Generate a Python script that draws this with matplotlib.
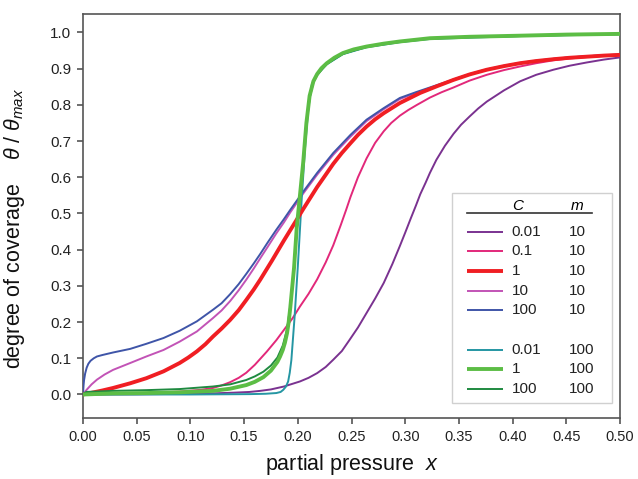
import matplotlib
matplotlib.use("Agg")
import matplotlib.pyplot as plt
from matplotlib.lines import Line2D
from matplotlib.patches import Rectangle
from matplotlib.ticker import FormatStrFormatter

plt.rcParams["font.family"] = ["Liberation Sans", "DejaVu Sans"]
plt.rcParams["mathtext.fontset"] = "custom"
plt.rcParams["mathtext.rm"] = "Liberation Sans"
plt.rcParams["mathtext.it"] = "Liberation Sans:italic"

# values (x = partial pressure, y = theta/theta_max)
x_c001_m10 = [0.0, 0.05, 0.10, 0.12, 0.14, 0.155, 0.165, 0.175, 0.187, 0.202, 0.210, 0.218,
              0.226, 0.233, 0.241, 0.248, 0.256, 0.264, 0.272, 0.280, 0.288, 0.295, 0.300,
              0.305, 0.310, 0.314, 0.319, 0.323, 0.329, 0.337, 0.345, 0.352, 0.360, 0.368,
              0.376, 0.392, 0.407, 0.422, 0.438, 0.453, 0.469, 0.485, 0.5]
y_c001_m10 = [0.0, 0.0005, 0.002, 0.003, 0.005, 0.007, 0.010, 0.014, 0.022, 0.036, 0.046, 0.059,
              0.076, 0.096, 0.120, 0.150, 0.185, 0.225, 0.265, 0.308, 0.360, 0.410, 0.447,
              0.485, 0.522, 0.553, 0.585, 0.612, 0.648, 0.687, 0.720, 0.745, 0.768, 0.790,
              0.809, 0.840, 0.865, 0.883, 0.897, 0.908, 0.917, 0.925, 0.931]

x_c01_m10 = [0.0, 0.05, 0.09, 0.11, 0.121, 0.129, 0.137, 0.145, 0.152, 0.160, 0.171, 0.180,
             0.187, 0.195, 0.202, 0.210, 0.218, 0.226, 0.233, 0.240, 0.245, 0.249, 0.256,
             0.264, 0.272, 0.280, 0.287, 0.295, 0.303, 0.311, 0.323, 0.334, 0.345, 0.360,
             0.376, 0.392, 0.407, 0.422, 0.438, 0.453, 0.469, 0.485, 0.5]
y_c01_m10 = [0.0, 0.003, 0.008, 0.013, 0.018, 0.025, 0.034, 0.046, 0.060, 0.082, 0.118, 0.150,
             0.178, 0.210, 0.243, 0.278, 0.318, 0.365, 0.412, 0.468, 0.510, 0.545, 0.600,
             0.652, 0.695, 0.727, 0.750, 0.770, 0.786, 0.800, 0.820, 0.835, 0.848, 0.867,
             0.883, 0.896, 0.906, 0.915, 0.923, 0.928, 0.932, 0.935, 0.937]

x_c1_m10 = [0.0, 0.005, 0.010, 0.018, 0.028, 0.044, 0.059, 0.075, 0.090, 0.098, 0.106, 0.114,
            0.121, 0.129, 0.137, 0.145, 0.152, 0.159, 0.165, 0.176, 0.187, 0.198, 0.205,
            0.218, 0.226, 0.233, 0.241, 0.249, 0.256, 0.264, 0.272, 0.280, 0.295, 0.314,
            0.330, 0.345, 0.360, 0.376, 0.392, 0.407, 0.422, 0.438, 0.453, 0.469, 0.485, 0.5]
y_c1_m10 = [0.0, 0.003, 0.006, 0.011, 0.018, 0.031, 0.045, 0.064, 0.087, 0.102, 0.119, 0.139,
            0.160, 0.182, 0.206, 0.233, 0.261, 0.290, 0.317, 0.370, 0.425, 0.478, 0.512,
            0.573, 0.607, 0.637, 0.667, 0.694, 0.717, 0.740, 0.760, 0.777, 0.805, 0.833,
            0.852, 0.869, 0.884, 0.897, 0.907, 0.915, 0.921, 0.926, 0.930, 0.933, 0.936, 0.938]

x_c10_m10 = [0.0, 0.002, 0.004, 0.008, 0.013, 0.020, 0.028, 0.044, 0.059, 0.075, 0.090, 0.106,
             0.121, 0.129, 0.137, 0.145, 0.152, 0.159, 0.165, 0.172, 0.180, 0.187, 0.193,
             0.205, 0.218, 0.233, 0.249, 0.264, 0.280, 0.295, 0.310, 0.323, 0.345, 0.360,
             0.376, 0.392, 0.407, 0.422, 0.438, 0.453, 0.469, 0.485, 0.5]
y_c10_m10 = [0.0, 0.008, 0.015, 0.028, 0.041, 0.055, 0.068, 0.087, 0.105, 0.123, 0.146, 0.174,
             0.211, 0.232, 0.258, 0.288, 0.317, 0.348, 0.376, 0.408, 0.445, 0.475, 0.503,
             0.555, 0.607, 0.662, 0.712, 0.755, 0.788, 0.816, 0.833, 0.846, 0.869, 0.884,
             0.897, 0.907, 0.915, 0.921, 0.927, 0.931, 0.934, 0.937, 0.939]

x_c100_m10 = [0.0, 0.0005, 0.001, 0.002, 0.0034, 0.005, 0.007, 0.010, 0.013, 0.018, 0.028,
              0.044, 0.059, 0.075, 0.090, 0.106, 0.121, 0.129, 0.137, 0.145, 0.152, 0.159,
              0.165, 0.172, 0.180, 0.187, 0.193, 0.205, 0.218, 0.233, 0.249, 0.264, 0.280,
              0.295, 0.310, 0.323, 0.345, 0.360, 0.376, 0.392, 0.407, 0.422, 0.438, 0.453,
              0.469, 0.485, 0.5]
y_c100_m10 = [0.0, 0.025, 0.040, 0.058, 0.074, 0.085, 0.093, 0.100, 0.105, 0.109, 0.116,
              0.126, 0.140, 0.156, 0.176, 0.202, 0.234, 0.252, 0.277, 0.305, 0.333, 0.362,
              0.388, 0.420, 0.455, 0.484, 0.510, 0.560, 0.612, 0.667, 0.717, 0.759, 0.791,
              0.819, 0.835, 0.848, 0.870, 0.885, 0.898, 0.908, 0.916, 0.922, 0.927, 0.931,
              0.934, 0.937, 0.939]

x_c001_m100 = [0.0, 0.10, 0.155, 0.170, 0.180, 0.184, 0.1865, 0.189, 0.191, 0.1925, 0.194,
               0.197, 0.200, 0.2036, 0.2067, 0.2098, 0.213, 0.218, 0.227, 0.242, 0.264, 0.295,
               0.323, 0.407, 0.5]
y_c001_m100 = [0.0, 0.0, 0.001, 0.002, 0.004, 0.007, 0.013, 0.022, 0.036, 0.060, 0.095,
               0.214, 0.353, 0.538, 0.680, 0.790, 0.855, 0.885, 0.912, 0.940, 0.959, 0.973,
               0.982, 0.990, 0.995]

x_c1_m100 = [0.0, 0.028, 0.059, 0.090, 0.121, 0.137, 0.152, 0.160, 0.168, 0.175, 0.181,
             0.1835, 0.186, 0.188, 0.190, 0.1915, 0.193, 0.1965, 0.199, 0.2015, 0.205, 0.208,
             0.211, 0.2145, 0.218, 0.222, 0.227, 0.234, 0.242, 0.252, 0.264, 0.280, 0.295,
             0.323, 0.360, 0.407, 0.45, 0.5]
y_c1_m100 = [0.0, 0.003, 0.004, 0.006, 0.010, 0.016, 0.026, 0.035, 0.048, 0.066, 0.090,
             0.105, 0.123, 0.143, 0.170, 0.200, 0.240, 0.350, 0.460, 0.535, 0.640, 0.750,
             0.825, 0.865, 0.885, 0.901, 0.915, 0.930, 0.943, 0.953, 0.961, 0.969, 0.975,
             0.984, 0.988, 0.991, 0.994, 0.996]

x_c100_m100 = [0.0, 0.003, 0.028, 0.059, 0.090, 0.121, 0.137, 0.152, 0.160, 0.168, 0.175,
               0.181, 0.186, 0.190, 0.193, 0.1965, 0.199, 0.2015, 0.205, 0.208, 0.211, 0.2145,
               0.218, 0.227, 0.242, 0.264, 0.295, 0.323, 0.360, 0.407, 0.45, 0.5]
y_c100_m100 = [0.0, 0.007, 0.010, 0.012, 0.015, 0.022, 0.028, 0.040, 0.050, 0.063, 0.080,
               0.102, 0.135, 0.180, 0.245, 0.350, 0.455, 0.530, 0.635, 0.745, 0.820, 0.862,
               0.882, 0.913, 0.941, 0.960, 0.974, 0.983, 0.987, 0.990, 0.993, 0.995]

legend_c = ["0.01", "0.1", "1", "10", "100", "0.01", "1", "100"]
legend_m = ["10", "10", "10", "10", "10", "100", "100", "100"]

THIN, THICK = 1.4, 2.8
# (x, y, colour, width, zorder) in legend order
curves = [
    (x_c001_m10, y_c001_m10, "#7a3290", THIN, 3),
    (x_c01_m10, y_c01_m10, "#e2287a", THIN, 3),
    (x_c1_m10, y_c1_m10, "#f01e23", THICK, 5),
    (x_c10_m10, y_c10_m10, "#c253b6", THIN, 3),
    (x_c100_m10, y_c100_m10, "#3f55a8", THIN, 4),
    (x_c001_m100, y_c001_m100, "#2596a3", THIN, 4),
    (x_c1_m100, y_c1_m100, "#5cbd45", THICK, 7),
    (x_c100_m100, y_c100_m100, "#1f8a40", THIN, 6),
]
legend_rows = [0, 1, 2, 3, 4, 6, 7, 8]

fig = plt.figure(figsize=(6.38, 4.79), dpi=100)
ax = fig.add_axes([0.1301, 0.1273, 0.8417, 0.8428])

for xs, ys, col, lw, z in curves:
    ax.plot(xs, ys, color=col, lw=lw, zorder=z, solid_capstyle="butt",
            solid_joinstyle="round")

ax.set_xlim(0, 0.5)
ax.set_ylim(-0.065, 1.05)
ax.set_xticks([i * 0.05 for i in range(11)])
ax.set_yticks([i * 0.1 for i in range(11)])
ax.xaxis.set_major_formatter(FormatStrFormatter("%.2f"))
ax.yaxis.set_major_formatter(FormatStrFormatter("%.1f"))

spine_col = "#555555"
for s in ax.spines.values():
    s.set_color(spine_col)
    s.set_linewidth(1.2)
ax.tick_params(direction="out", length=4.5, width=1.2, color=spine_col,
               labelsize=10.5, labelcolor="#222222", pad=4)
ax.tick_params(axis="y", labelsize=11)

ax.set_xlabel(r"partial pressure  $x$", fontsize=15.5, color="#111111", labelpad=6)
ax.set_ylabel(r"degree of coverage    $\theta$ / $\theta_{max}$", fontsize=15.5,
              color="#111111")
ax.yaxis.set_label_coords(-0.104, 0.47)

# hand-made two-column legend (C, m)
tr = ax.transAxes
ax.add_patch(Rectangle((0.688, 0.038), 0.297, 0.519, transform=tr, facecolor="white",
                       edgecolor="#d0d0d0", lw=1.0, zorder=10))
ax.text(0.809, 0.525, "C", transform=tr, ha="center", va="center", fontsize=11,
        style="italic", zorder=11)
ax.text(0.920, 0.525, "m", transform=tr, ha="center", va="center", fontsize=11,
        style="italic", zorder=11)
ax.add_line(Line2D([0.716, 0.948], [0.507, 0.507], transform=tr, color="#333333",
                   lw=1.2, zorder=11))
row_top, row_step = 0.4615, 0.0487
for (xs, ys, col, lw, z), c_lab, m_lab, r in zip(curves, legend_c, legend_m, legend_rows):
    yy = row_top - r * row_step
    ax.add_line(Line2D([0.716, 0.782], [yy, yy], transform=tr, color=col, lw=lw,
                       zorder=11, solid_capstyle="butt"))
    ax.text(0.798, yy, c_lab, transform=tr, ha="left", va="center", fontsize=11,
            color="#222222", zorder=11)
    ax.text(0.904, yy, m_lab, transform=tr, ha="left", va="center", fontsize=11,
            color="#222222", zorder=11)

fig.savefig("out.png", dpi=100)
